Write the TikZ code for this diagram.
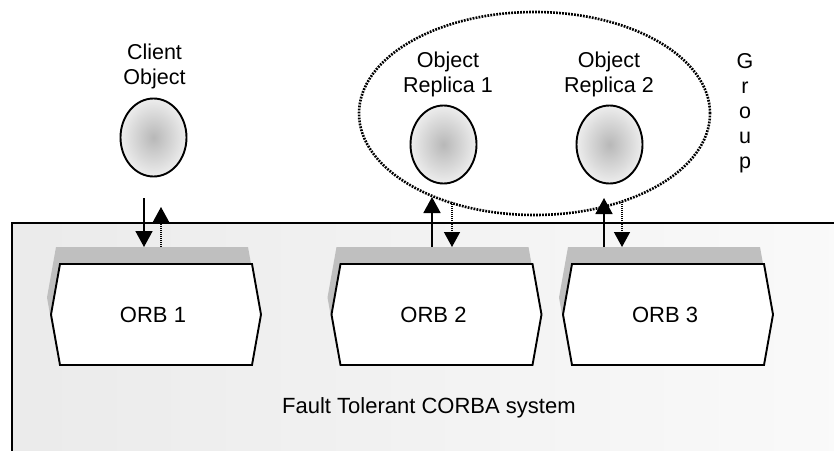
\documentclass[tikz,border=0pt]{standalone}
\usepackage{fontspec}
\setmainfont{Liberation Sans}
\usetikzlibrary{arrows.meta,shapes.geometric}

\begin{document}
\begin{tikzpicture}[x=1pt,y=-1pt,
  lbl/.style={font=\fontsize{21.5}{25}\selectfont, align=center, inner sep=0pt},
  orbtext/.style={font=\fontsize{22}{26}\selectfont, inner sep=0pt},
  obj/.style={ellipse, draw, line width=1.9pt, minimum width=66pt, minimum height=78pt,
              inner sep=0pt, inner color=black!28, outer color=black!7},
  grp/.style={ellipse, draw, line width=2.6pt, dash pattern=on 1.8pt off 1.2pt,
              minimum width=351pt, minimum height=203pt, inner sep=0pt},
  solidarrow/.style={line width=1.7pt, -{Triangle[width=17pt,length=16pt]}},
  dotarrow/.style={line width=1.4pt, dash pattern=on 1pt off 1pt,
                   -{Triangle[width=16pt,length=15pt]}},
  orbline/.style={line width=1.9pt, line join=miter, fill=white},
  orbshadow/.style={fill=black!25},
  orbbox/.pic={
    \fill[orbshadow] (-100,-67.5) -- (92,-67.5) -- (101,-17) -- (92,33.5)
                     -- (-100,33.5) -- (-109,-17) -- cycle;
    \draw[orbline] (-96,-50.5) -- (96,-50.5) -- (105,0) -- (96,50.5)
                   -- (-96,50.5) -- (-105,0) -- cycle;
  },
]
% page area
\useasboundingbox (0,0) rectangle (834,450);
\fill[white] (0,0) rectangle (834,450);
\clip (0,0) rectangle (834,450);

% the CORBA system frame
\draw[line width=1.9pt, left color=black!8, right color=black!2]
  (12,223) rectangle (850,470);

% ORB boxes with their grey top shadow
\pic at (156,314.5) {orbbox};
\pic at (436.5,314.5) {orbbox};
\pic at (668,314.5) {orbbox};
\node[orbtext] (orb1) at (153,314.5) {ORB 1};
\node[orbtext] (orb2) at (433.5,314.5) {ORB 2};
\node[orbtext] (orb3) at (665,314.5) {ORB 3};

\node[orbtext, anchor=base west] (system) at (282,413) {Fault Tolerant CORBA system};

% object group
\node[grp] (group) at (534.5,113.5) {};
\node[lbl, anchor=north] (grouplbl) at (745,53) {G\\r\\o\\u\\p};

% objects
\node[obj] (client) at (153.5,137.5) {};
\node[obj] (rep1) at (443.5,144.5) {};
\node[obj] (rep2) at (609.5,144.5) {};
\node[lbl, anchor=north] (clientlbl) at (154.5,44) {Client\\Object};
\node[lbl, anchor=north] (rep1lbl) at (448,52) {Object\\Replica 1};
\node[lbl, anchor=north] (rep2lbl) at (609,52) {Object\\Replica 2};

% request / reply connectors
\coordinate (cl-out) at (144,198);  \coordinate (o1-in)  at (144,247);
\coordinate (o1-out) at (161,247);  \coordinate (cl-in)  at (161,207);
\coordinate (o2-out) at (432,247);  \coordinate (r1-in)  at (432,197);
\coordinate (r1-out) at (452,202);  \coordinate (o2-in)  at (452,247);
\coordinate (o3-out) at (604,247);  \coordinate (r2-in)  at (604,198);
\coordinate (r2-out) at (622,202);  \coordinate (o3-in)  at (622,247);

\draw[solidarrow] (cl-out) -- (o1-in);
\draw[dotarrow]   (o1-out) -- (cl-in);
\draw[solidarrow] (o2-out) -- (r1-in);
\draw[dotarrow]   (r1-out) -- (o2-in);
\draw[solidarrow] (o3-out) -- (r2-in);
\draw[dotarrow]   (r2-out) -- (o3-in);
\end{tikzpicture}
\end{document}
